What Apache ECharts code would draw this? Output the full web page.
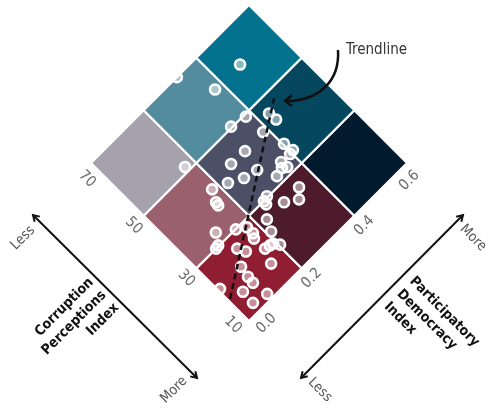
<!DOCTYPE html>
<html>
<head>
<meta charset="utf-8">
<script src="https://cdn.jsdelivr.net/npm/echarts@6/dist/echarts.min.js"></script>
<style>
html,body{margin:0;padding:0;background:#fff;}
#chart{width:497px;height:408px;}
</style>
</head>
<body>
<div id="chart"></div>
<script>
// tick values along the two diamond edges
const cpiTicks = [10, 30, 50, 70];
const pdiTicks = [0.0, 0.2, 0.4, 0.6];

// bivariate colours: rows = CPI bin (10-30, 30-50, 50-70), cols = PDI bin (0-.2, .2-.4, .4-.6)
const cellColors = [
  ['#8f1e33', '#4d1b2c', '#011a2d'],
  ['#9a606d', '#4b5066', '#064760'],
  ['#a5a1ad', '#538c9f', '#03728f']
];

// one dot per country
const cpiValues = [60.4, 70, 60.4, 45.6, 43.1, 49.4, 50.3, 43.2, 37.0, 34.1,
  33.9, 43.0, 43.2, 37.1, 34.1, 32.0, 32.8, 32.2, 38.1, 40.2,
  51.4, 42.0, 38.8, 37.8, 25.9, 23.6, 25.9, 30.3, 29.9, 28.9,
  25.9, 22.8, 25.9, 24.7, 28.2, 29.9, 33.1, 30.2, 30.0, 26.0,
  23.8, 20.7, 20.4, 20.1, 18.6, 16.7, 21.8, 18.6, 16.5, 21.6,
  16.7, 11.7, 12.7];
const pdiValues = [0.470, 0.326, 0.375, 0.432, 0.434, 0.382, 0.335, 0.386, 0.403, 0.408,
  0.395, 0.315, 0.264, 0.302, 0.363, 0.365, 0.353, 0.328, 0.262, 0.222,
  0.171, 0.180, 0.163, 0.161, 0.349, 0.326, 0.292, 0.271, 0.256, 0.254,
  0.227, 0.212, 0.174, 0.166, 0.174, 0.149, 0.105, 0.085, 0.075, 0.115,
  0.126, 0.168, 0.183, 0.193, 0.204, 0.151, 0.088, 0.082, 0.080, 0.006,
  0.044, 0.086, 0.042];

// trendline end points
const trendCpi = [17.8, 47.5];
const trendPdi = [0.006, 0.47];

const FONT = '"DejaVu Sans Condensed", "Liberation Sans Narrow", Roboto, sans-serif';

// (cpi, pdi) -> rotated plane: diamond with bottom corner at cpi=10, pdi=0
function toXY(cpi, pdi) {
  const b = (cpi - 10) / 20, a = pdi / 0.2;
  return [a - b, a + b];
}

const cellData = [];
cellColors.forEach((row, i) => row.forEach((c, j) => cellData.push([i, j])));

const dots = cpiValues.map((c, k) => toXY(c, pdiValues[k]));
const trend = trendCpi.map((c, k) => toXY(c, trendPdi[k]));

const gap = 0.19; // label distance from edge, in cells
const cpiLabels = cpiTicks.map((v, k) => ({
  value: toXY(v, -gap * 0.2),
  label: { formatter: String(v), align: k === 0 ? 'right' : (k === cpiTicks.length - 1 ? 'left' : 'center'), rotate: -45 }
}));
const pdiLabels = pdiTicks.map((v, k) => ({
  value: toXY(10 - gap * 20, v),
  label: { formatter: v.toFixed(1), align: k === 0 ? 'left' : (k === pdiTicks.length - 1 ? 'right' : 'center'), rotate: 45 }
}));

function arrow(x1, y1, x2, y2) {
  const ang = Math.atan2(y2 - y1, x2 - x1), h = 7, w = 0.55;
  const head = (x, y, a) => ({
    type: 'polyline', z: 100,
    shape: { points: [[x - h * Math.cos(a - w), y - h * Math.sin(a - w)], [x, y], [x - h * Math.cos(a + w), y - h * Math.sin(a + w)]] },
    style: { stroke: '#111', lineWidth: 2, fill: null }
  });
  return [
    { type: 'line', z: 100, shape: { x1, y1, x2, y2 }, style: { stroke: '#111', lineWidth: 2 } },
    head(x2, y2, ang),
    head(x1, y1, ang + Math.PI)
  ];
}

function txt(x, y, text, rot, opts) {
  return {
    type: 'text', x, y, rotation: rot, z: 100,
    style: Object.assign({ text, fill: '#555', font: '14px ' + FONT, align: 'center', verticalAlign: 'middle' }, opts || {})
  };
}

const chart = echarts.init(document.getElementById('chart'));
const option = {
  animation: false,
  grid: { left: 91, right: 90, top: 5, bottom: 87 },
  xAxis: { type: 'value', min: -3, max: 3, show: false },
  yAxis: { type: 'value', min: 0, max: 6, show: false },
  series: [
    {
      type: 'custom',
      silent: true,
      z: 1,
      data: cellData,
      renderItem: function (params, api) {
        const i = api.value(0), j = api.value(1);
        const c0 = cpiTicks[i], c1 = cpiTicks[i + 1], p0 = pdiTicks[j], p1 = pdiTicks[j + 1];
        const pts = [[c0, p0], [c1, p0], [c1, p1], [c0, p1]].map(q => api.coord(toXY(q[0], q[1])));
        return {
          type: 'polygon',
          shape: { points: pts },
          style: { fill: cellColors[i][j], stroke: '#fff', lineWidth: 2.2 }
        };
      }
    },
    {
      type: 'scatter',
      z: 3,
      data: dots,
      symbolSize: 10,
      itemStyle: { color: 'rgba(255,255,255,0.5)', borderColor: '#fff', borderWidth: 2.6, opacity: 1 }
    },
    {
      type: 'line',
      z: 4,
      data: trend,
      symbol: 'none',
      lineStyle: { color: '#111', width: 2.5, type: [6, 4] }
    },
    {
      type: 'scatter',
      clip: false,
      silent: true,
      symbolSize: 0,
      data: cpiLabels.concat(pdiLabels),
      label: {
        show: true, position: 'inside', verticalAlign: 'middle',
        color: '#444', fontSize: 15, fontFamily: FONT
      }
    }
  ],
  graphic: [].concat(
    arrow(33, 215, 197, 378),
    arrow(463, 215, 301, 378),
    [
      txt(23, 238, 'Less', Math.PI / 4),
      txt(174, 390, 'More', Math.PI / 4),
      txt(473, 238, 'More', -Math.PI / 4),
      txt(320, 390, 'Less', -Math.PI / 4),
      txt(104, 293, 'Corruption\nPerceptions\nIndex', Math.PI / 4,
        { fill: '#111', font: 'bold 14px ' + FONT, align: 'right', lineHeight: 18 }),
      txt(399, 292, 'Participatory\nDemocracy\nIndex', -Math.PI / 4,
        { fill: '#111', font: 'bold 14px ' + FONT, align: 'left', lineHeight: 18 }),
      txt(346, 50, 'Trendline', 0, { fill: '#333', font: '15px ' + FONT, align: 'left' }),
      {
        type: 'bezierCurve', z: 100,
        shape: { x1: 338, y1: 50, cpx1: 340, cpy1: 82, cpx2: 318, cpy2: 101, x2: 286, y2: 101 },
        style: { stroke: '#111', lineWidth: 2.5, fill: null }
      },
      {
        type: 'polyline', z: 100,
        shape: { points: [[292, 95], [285, 101], [292, 106]] },
        style: { stroke: '#111', lineWidth: 2.5, fill: null }
      }
    ]
  )
};
chart.setOption(option);
</script>
</body>
</html>
